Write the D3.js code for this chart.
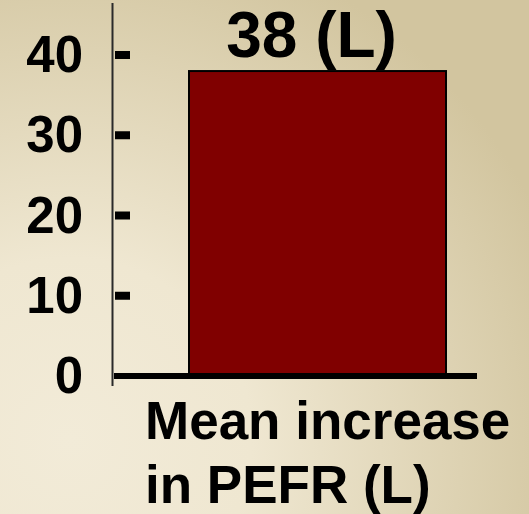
<!DOCTYPE html>
<html>
<head>
<meta charset="utf-8">
<script src="https://cdn.jsdelivr.net/npm/d3@7"></script>
<style>
  html, body { margin: 0; padding: 0; overflow: hidden; }
  svg { display: block; }
</style>
</head>
<body>
<script>
// Chart data
const categories = ["Mean increase in PEFR (L)"];
const categoryLines = [["Mean increase", "in PEFR (L)"]];
const values = [38];
const valueLabels = ["38 (L)"];
const tickValues = [0, 10, 20, 30, 40];

const W = 529, H = 514;
const svg = d3.select("body").append("svg").attr("width", W).attr("height", H);

// Warm beige backdrop, lightest toward the lower left
const defs = svg.append("defs");
const grad = defs.append("radialGradient")
  .attr("id", "bg").attr("gradientUnits", "userSpaceOnUse")
  .attr("cx", 70).attr("cy", 440).attr("r", 520);
grad.append("stop").attr("offset", 0).attr("stop-color", "#f2ebd8");
grad.append("stop").attr("offset", 0.35).attr("stop-color", "#efe7d1");
grad.append("stop").attr("offset", 1).attr("stop-color", "#d2c59f");
svg.append("rect").attr("width", W).attr("height", H).attr("fill", "url(#bg)");

const font = "Arial, 'Liberation Sans', sans-serif";

const y = d3.scaleLinear().domain([0, 40]).range([376, 55]);
const x = d3.scaleBand().domain(categories).range([189, 446]).padding(0);

// Vertical axis line
svg.append("line")
  .attr("x1", 112.5).attr("x2", 112.5).attr("y1", 3).attr("y2", 386)
  .attr("stroke", "#2a2a2a").attr("stroke-width", 2);

// Tick dashes and labels
const ticks = svg.append("g");
ticks.selectAll("rect.tick").data(tickValues.filter(d => d > 0)).join("rect")
  .attr("class", "tick")
  .attr("x", 115).attr("width", 15)
  .attr("y", d => y(d) - 4).attr("height", 8)
  .attr("fill", "#000");
ticks.selectAll("text").data(tickValues).join("text")
  .attr("x", 83).attr("y", d => y(d) + 17)
  .attr("text-anchor", "end")
  .attr("font-family", font).attr("font-weight", "bold").attr("font-size", 51)
  .attr("fill", "#000")
  .text(d => d);

// Bar
svg.selectAll("rect.bar").data(values).join("rect")
  .attr("class", "bar")
  .attr("x", (d, i) => x(categories[i]))
  .attr("width", x.bandwidth())
  .attr("y", d => y(d))
  .attr("height", d => y(0) - y(d))
  .attr("fill", "#800000")
  .attr("stroke", "#000").attr("stroke-width", 2);

// Baseline
svg.append("line")
  .attr("x1", 114).attr("x2", 477).attr("y1", y(0)).attr("y2", y(0))
  .attr("stroke", "#000").attr("stroke-width", 6);

// Value label above the bar
svg.selectAll("text.val").data(values).join("text")
  .attr("class", "val")
  .attr("x", (d, i) => x(categories[i]) + x.bandwidth() / 2 - 6)
  .attr("y", d => y(d) - 14)
  .attr("text-anchor", "middle")
  .attr("font-family", font).attr("font-weight", "bold").attr("font-size", 64)
  .attr("fill", "#000")
  .text((d, i) => valueLabels[i]);

// Category label
const cat = svg.append("text")
  .attr("font-family", font).attr("font-weight", "bold").attr("font-size", 53)
  .attr("fill", "#000");
categoryLines[0].forEach((line, i) => {
  cat.append("tspan").attr("x", 145).attr("y", 439 + i * 64).text(line);
});
</script>
</body>
</html>
